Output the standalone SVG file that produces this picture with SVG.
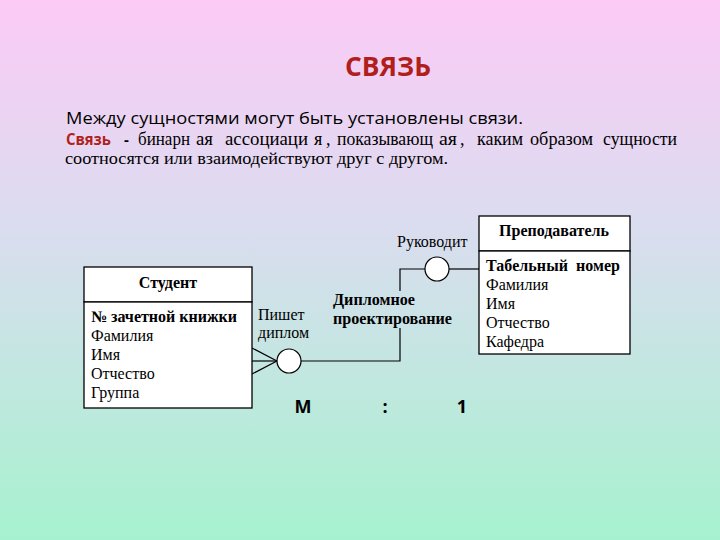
<svg xmlns="http://www.w3.org/2000/svg" width="720" height="540" viewBox="0 0 720 540">
<defs>
<linearGradient id="bg" x1="0" y1="0" x2="0" y2="1">
<stop offset="0" stop-color="#fccbf6"/>
<stop offset="0.4" stop-color="#dcdcf0"/>
<stop offset="1" stop-color="#a6f2cf"/>
</linearGradient>
<style>
.ser{font-family:"Liberation Serif","Times New Roman",serif;font-size:16px;fill:#000}
.w{font-size:18px}
.b{font-weight:bold}
.box{fill:#fff;stroke:#000;stroke-width:1.3}
.ln{fill:none;stroke:#000;stroke-width:1.2}
.cir{fill:#fff;stroke:#000;stroke-width:1.2}
.cs{font-family:"Open Sans","DejaVu Sans",sans-serif}
</style>
</defs>
<rect width="720" height="540" fill="url(#bg)"/>
<text x="388" y="76" text-anchor="middle" class="cs" font-size="27" font-weight="bold" fill="#b01f1c" textLength="86" lengthAdjust="spacingAndGlyphs">СВЯЗЬ</text>
<text x="66" y="124" class="cs" font-size="16" fill="#000" textLength="457" lengthAdjust="spacingAndGlyphs">Между сущностями могут быть установлены связи.</text>
<text x="66" y="145" class="cs" font-size="15.5" font-weight="bold" fill="#b01f1c" textLength="45" lengthAdjust="spacingAndGlyphs">Связь</text>
<text x="124" y="145" class="cs" font-size="15" font-weight="bold" fill="#000">-</text>
<g id="definition">
<text x="138" y="145" class="ser w" textLength="52" lengthAdjust="spacingAndGlyphs">бинарн</text>
<text x="196" y="145" class="ser w" textLength="17" lengthAdjust="spacingAndGlyphs">ая</text>
<text x="225" y="145" class="ser w" textLength="83" lengthAdjust="spacingAndGlyphs">ассоциаци</text>
<text x="314" y="145" class="ser w">я</text>
<text x="326" y="145" class="ser w">,</text>
<text x="337" y="145" class="ser w" textLength="96" lengthAdjust="spacingAndGlyphs">показывающ</text>
<text x="439" y="145" class="ser w" textLength="18" lengthAdjust="spacingAndGlyphs">ая</text>
<text x="460" y="145" class="ser w">,</text>
<text x="477" y="145" class="ser w" textLength="46" lengthAdjust="spacingAndGlyphs">каким</text>
<text x="530" y="145" class="ser w" textLength="63" lengthAdjust="spacingAndGlyphs">образом</text>
<text x="603" y="145" class="ser w" textLength="74" lengthAdjust="spacingAndGlyphs">сущности</text>
</g>
<text x="65" y="164" class="ser" font-size="17.5" textLength="383" lengthAdjust="spacingAndGlyphs">соотносятся или взаимодействуют друг с другом.</text>

<g id="connectors">
<line class="ln" x1="252" y1="348" x2="277" y2="361"/>
<line class="ln" x1="252" y1="361" x2="277" y2="361"/>
<line class="ln" x1="252" y1="374" x2="277" y2="361"/>
<polyline class="ln" points="301,361 400,361 400,328"/>
<polyline class="ln" points="400,291 400,269 425,269"/>
<line class="ln" x1="449" y1="269" x2="479" y2="269"/>
</g>

<g id="student">
<rect class="box" x="84" y="267" width="168" height="35"/>
<rect class="box" x="84" y="302" width="168" height="106"/>
<text x="168" y="288" text-anchor="middle" class="ser b">Студент</text>
<text x="91" y="322" class="ser b" textLength="146" lengthAdjust="spacingAndGlyphs">№ зачетной книжки</text>
<text x="91" y="341" class="ser">Фамилия</text>
<text x="91" y="360" class="ser">Имя</text>
<text x="91" y="379" class="ser">Отчество</text>
<text x="91" y="398" class="ser">Группа</text>
</g>

<g id="teacher">
<rect class="box" x="479" y="216" width="151" height="35"/>
<rect class="box" x="479" y="251" width="151" height="103"/>
<text x="554" y="236" text-anchor="middle" class="ser b">Преподаватель</text>
<text x="486" y="271" class="ser b" textLength="134" lengthAdjust="spacing" xml:space="preserve">Табельный  номер</text>
<text x="486" y="290" class="ser">Фамилия</text>
<text x="486" y="309" class="ser">Имя</text>
<text x="486" y="328" class="ser">Отчество</text>
<text x="486" y="347" class="ser">Кафедра</text>
</g>

<g id="writes">
<ellipse class="cir" cx="289" cy="361" rx="12" ry="12"/>
<text x="258" y="320" class="ser">Пишет</text>
<text x="258" y="338" class="ser">диплом</text>
</g>

<g id="supervises">
<ellipse class="cir" cx="437" cy="269" rx="12" ry="12"/>
<text x="397" y="247" class="ser">Руководит</text>
</g>

<g id="diploma-label">
<text x="333" y="305" class="ser b" textLength="82" lengthAdjust="spacingAndGlyphs">Дипломное</text>
<text x="333" y="324" class="ser b" textLength="119" lengthAdjust="spacingAndGlyphs">проектирование</text>
</g>

<g id="cardinality">
<text x="303" y="413" text-anchor="middle" class="cs" font-size="18" font-weight="bold">М</text>
<text x="385" y="413" text-anchor="middle" class="cs" font-size="18" font-weight="bold">:</text>
<text x="462" y="413" text-anchor="middle" class="cs" font-size="18" font-weight="bold">1</text>
</g>
</svg>
